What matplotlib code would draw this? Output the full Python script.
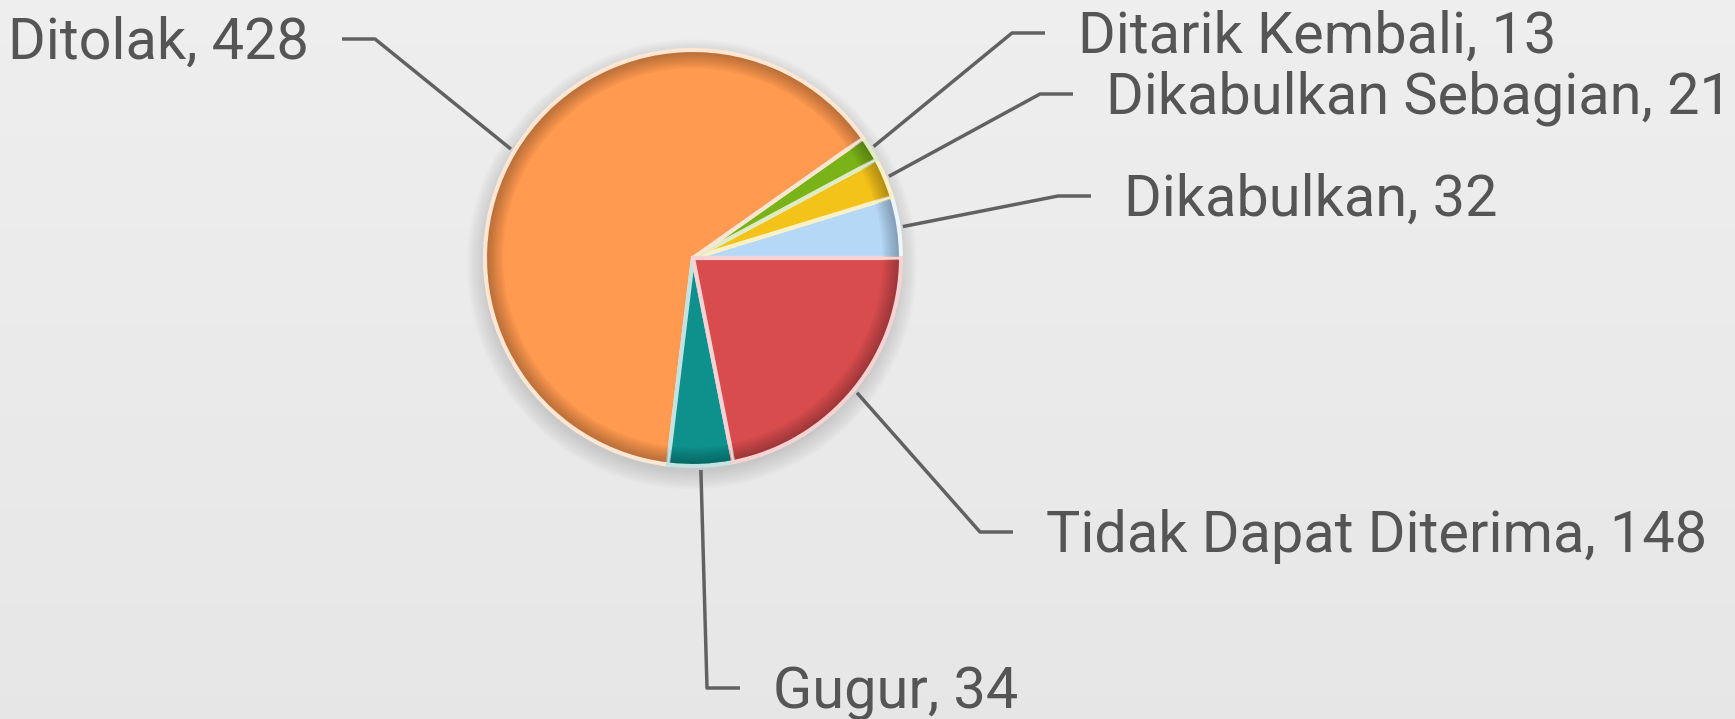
import numpy as np
import matplotlib.pyplot as plt
from matplotlib.patches import Wedge, Circle
from matplotlib.colors import to_rgb

labels = ["Dikabulkan", "Dikabulkan Sebagian", "Ditarik Kembali", "Ditolak", "Gugur", "Tidak Dapat Diterima"]
values = [32, 21, 13, 428, 34, 148]
colors = ["#B5D8F7", "#F4C31A", "#7AB317", "#FF9A50", "#0E908C", "#D94C4E"]

# label layout (pixels): knee of each leader line and the side the text sits on
knee_x = [1058, 1040, 1012, 375, 707, 980]
knee_y = [196, 94, 33, 39, 688, 532]
side = [1, 1, 1, -1, 1, 1]

W, H = 1735, 719
cx, cy, R = 693, 258, 208

plt.rcParams['font.family'] = ['Roboto', 'DejaVu Sans']

fig = plt.figure(figsize=(W / 100, H / 100), dpi=100)
ax = fig.add_axes([0, 0, 1, 1])


def px(x, y):
    return (x - cx) / R, (cy - y) / R


x0, y1 = px(0, 0)
x1, y0 = px(W, H)

# soft background gradient
grad = np.linspace(0.935, 0.905, 200).reshape(-1, 1)
ax.imshow(np.dstack([grad, grad, grad]), extent=(x0, x1, y0, y1), aspect='auto', zorder=0)

# soft shadow under the pie
for k in range(10):
    ax.add_patch(Circle((-0.005, -0.03), 1.0 + 0.009 * k, color='#8a8a8a', alpha=0.035, lw=0, zorder=0.5))

wedges, _ = ax.pie(values, colors=colors, startangle=0, counterclock=True, radius=1, center=(0, 0),
                   wedgeprops=dict(linewidth=3.0), frame=False)

for w, c in zip(wedges, colors):
    rgb = np.array(to_rgb(c))
    w.set_edgecolor(rgb * 0.25 + 0.75)
    w.set_zorder(1)
    # darker rim inside the outer edge
    for k in range(7):
        ax.add_patch(Wedge((0, 0), 0.99, w.theta1 + 0.3, w.theta2 - 0.3, width=0.011 * (k + 1),
                           color='black', alpha=0.04, lw=0, zorder=1.5))

line_col = '#616161'
text_col = '#555555'
for w, lab, val, kx, ky, s in zip(wedges, labels, values, knee_x, knee_y, side):
    mid = np.deg2rad((w.theta1 + w.theta2) / 2)
    axx, ayy = 1.02 * np.cos(mid), 1.02 * np.sin(mid)
    kxd, kyd = px(kx, ky)
    exd = kxd + s * 33 / R
    ax.plot([axx, kxd, exd], [ayy, kyd, kyd], color=line_col, lw=2.5, solid_capstyle='butt', zorder=2)
    ax.text(exd + s * 33 / R, kyd - 20 / R, f"{lab}, {val}", ha='left' if s > 0 else 'right',
            va='baseline', fontsize=41.5, color=text_col, zorder=3)

ax.set_xlim(x0, x1)
ax.set_ylim(y0, y1)
ax.set_aspect('auto')
ax.axis('off')

fig.savefig('out.png', dpi=100)
